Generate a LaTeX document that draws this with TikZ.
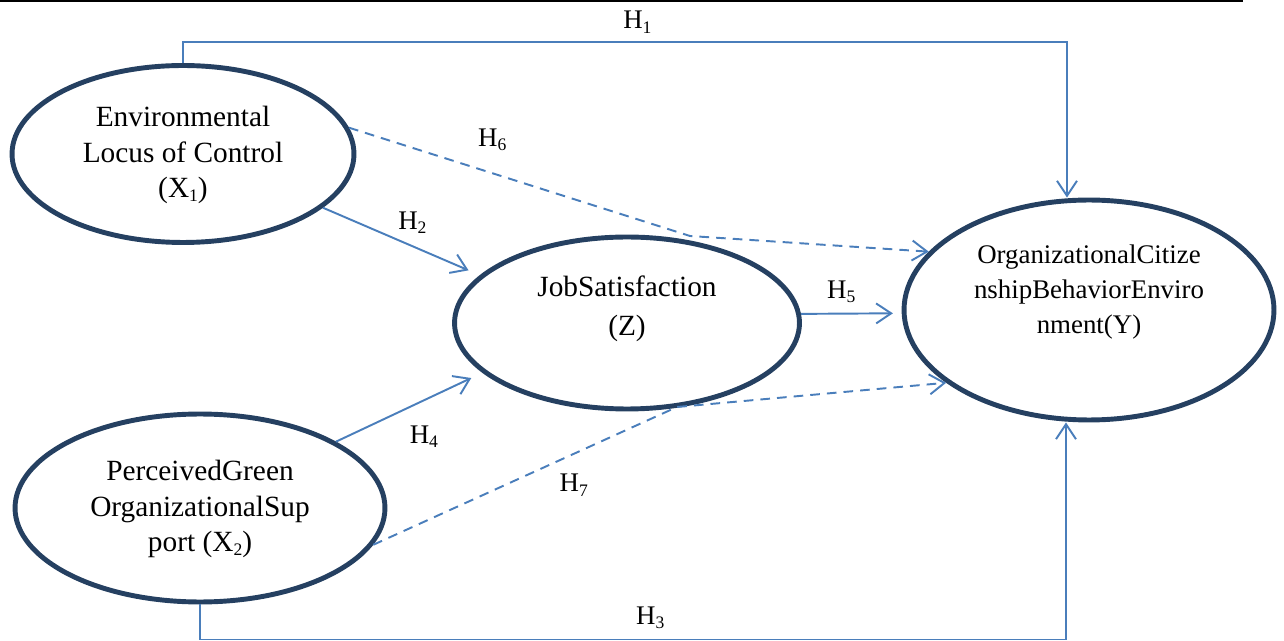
\documentclass[tikz,border=0pt]{standalone}
\usepackage{fontspec}
\setmainfont{Liberation Serif}
\usetikzlibrary{arrows.meta, shapes.geometric}

\definecolor{ovalblue}{RGB}{37,64,97}
\definecolor{linkblue}{RGB}{74,126,187}
\newcommand{\sub}[2]{#1\raisebox{-0.35ex}{\fontsize{10}{10}\selectfont #2}}

\begin{document}
\begin{tikzpicture}[x=0.02cm, y=-0.02cm,
		v/.style={ellipse, draw=ovalblue, line width=2.8pt, inner sep=0pt},
		t/.style={align=center, font=\fontsize{16.7}{20}\selectfont},
		h/.style={font=\fontsize{15.3}{20}\selectfont, inner sep=1pt, text=black},
		link/.style={linkblue, line width=1.1pt, -{Straight Barb[length=0.3cm, width=0.4cm]}},
		dsh/.style={link, dash pattern=on 5.5pt off 4pt}]
		\useasboundingbox (0,0) rectangle (1284,641);
		\draw [line width=1.2pt] (0,1) -- (1243,1);

		\node [v, minimum width=6.84cm, minimum height=3.54cm] (X1) at (183,154) {};
		\node [v, minimum width=7.4cm, minimum height=3.76cm] (X2) at (200,508) {};
		\node [v, minimum width=6.9cm, minimum height=3.44cm] (Z) at (627,323) {};
		\node [v, minimum width=7.4cm, minimum height=4.4cm] (Y) at (1089,310) {};

		\node [t] (X1txt) at (183,155) {Environmental\\Locus of Control\\(\sub{X}{1})};
		\node [t] (X2txt) at (200,509) {PerceivedGreen\\OrganizationalSup\\port (\sub{X}{2})};
		\node [t] (Ztxt) at (627,309) {JobSatisfaction\\[2pt](Z)};
		\node [t, font=\fontsize{15.3}{20}\selectfont] (Ytxt) at (1089,292) {OrganizationalCitize\\nshipBehaviorEnviro\\nment(Y)};

		\coordinate (k1) at (1067,42);
		\coordinate (k3) at (1066,639.5);
		\coordinate (k6) at (690,236);
		\coordinate (k7) at (677,407);

		\draw [link] (X1.north) |- node [h, above=3.5pt, pos=0.757] (h1) {\sub{H}{1}} (k1) -- (k1 |- Y.north);
		\draw [link] (X2.south) |- node [h, above=4.5pt, pos=0.76] (h3) {\sub{H}{3}} (k3) -- (k3 |- Y.south);
		\path [link, shorten >=7pt] (X1.-21) edge node [h, above=5.5pt, pos=0.57] (h2) {\sub{H}{2}} (Z.162);
		\path [link, shorten >=7pt] (X2.26) edge node [h, below=13pt, pos=0.6] (h4) {\sub{H}{4}} (Z.-161);
		\path [link, shorten >=5pt] (Z.3) edge node [h, above=4.5pt, pos=0.4] (h5) {\sub{H}{5}} (Y.181);
		\draw [dsh] (X1.9) -- node [h, above=11pt, pos=0.42] (h6) {\sub{H}{6}} (k6) -- (Y.160);
		\draw [dsh] (X2.-12) -- node [h, below=10pt, pos=0.66] (h7) {\sub{H}{7}} (k7) -- (Y.-153);
	\end{tikzpicture}
\end{document}
